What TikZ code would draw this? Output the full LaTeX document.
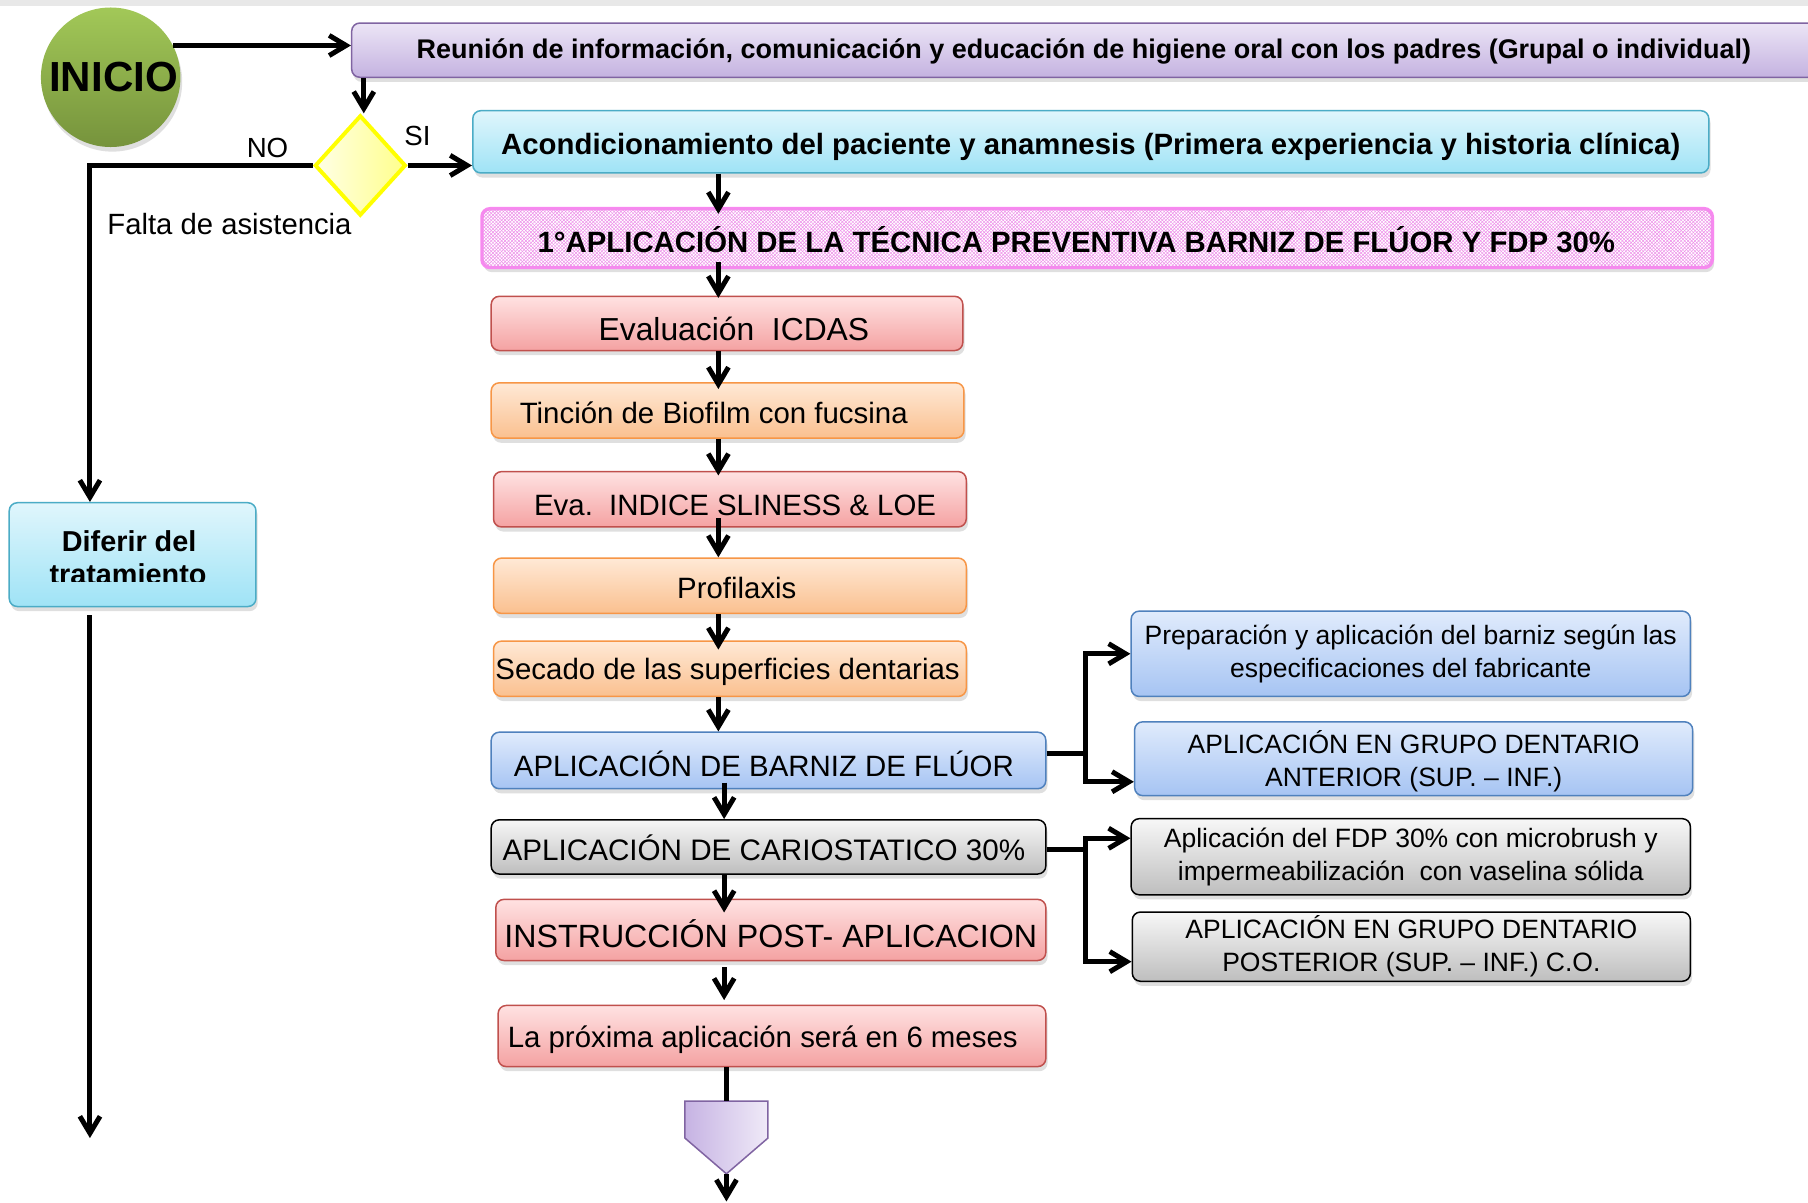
\documentclass[tikz,border=0pt]{standalone}
\usepackage{fontspec}
\setmainfont{Liberation Sans}
\usetikzlibrary{arrows.meta,shapes.geometric,shadows,patterns}
\definecolor{grnT}{HTML}{A2C858}
\definecolor{grnB}{HTML}{76933C}
\definecolor{purT}{HTML}{ECE5F6}
\definecolor{purB}{HTML}{C4B2E0}
\definecolor{purD}{HTML}{8064A2}
\definecolor{penL}{HTML}{C6B3E3}
\definecolor{penR}{HTML}{F0EAF8}
\definecolor{cyT}{HTML}{E0F6FC}
\definecolor{cyB}{HTML}{9FE3F6}
\definecolor{cyD}{HTML}{4BACC6}
\definecolor{pkD}{HTML}{F888F0}
\definecolor{pkP}{HTML}{EE90EA}
\definecolor{rdT}{HTML}{FFE2E2}
\definecolor{rdB}{HTML}{F4A2A2}
\definecolor{rdD}{HTML}{C0504D}
\definecolor{orT}{HTML}{FFE9D6}
\definecolor{orB}{HTML}{FAC08F}
\definecolor{orD}{HTML}{F79646}
\definecolor{blT}{HTML}{E0EBFC}
\definecolor{blB}{HTML}{A6C4F3}
\definecolor{blD}{HTML}{4F81BD}
\definecolor{gyT}{HTML}{F7F7F7}
\definecolor{gyB}{HTML}{BEBEBE}
\definecolor{yeT}{HTML}{FFFFE6}
\definecolor{yeB}{HTML}{FFFF8C}
\definecolor{yeD}{HTML}{FFFF00}
\newcommand\txtdown[2]{\raisebox{-#1pt}[\height][\depth]{#2}}
\pgfdeclarearrow{
  name=Chev,
  setup code={
    \pgfarrowssettipend{0pt}
    \pgfarrowssetlineend{-6pt}
    \pgfarrowssetbackend{-20pt}
  },
  drawing code={
    \pgfpathmoveto{\pgfqpoint{0pt}{0pt}}
    \pgfpathlineto{\pgfqpoint{-17.8pt}{10.6pt}}
    \pgfpathlineto{\pgfqpoint{-20pt}{6.9pt}}
    \pgfpathlineto{\pgfqpoint{-8.5pt}{0pt}}
    \pgfpathlineto{\pgfqpoint{-20pt}{-6.9pt}}
    \pgfpathlineto{\pgfqpoint{-17.8pt}{-10.6pt}}
    \pgfpathclose
    \pgfusepathqfill
  }
}
\begin{document}
\begin{tikzpicture}[x=1pt,y=-1pt,
  arr/.style={line width=4.3pt,-{Chev}},
  ln/.style={line width=4.3pt},
  box/.style={rectangle,rounded corners=7pt,line width=1.3pt,inner sep=0pt,
    drop shadow={shadow xshift=1.5pt,shadow yshift=-4pt,opacity=0.25}},
  rbox/.style={box,draw=rdD,top color=rdT,bottom color=rdB},
  obox/.style={box,draw=orD,top color=orT,bottom color=orB},
  bbox/.style={box,draw=blD,top color=blT,bottom color=blB},
  gbox/.style={box,draw=black,top color=gyT,bottom color=gyB},
  cbox/.style={box,draw=cyD,top color=cyT,bottom color=cyB},
  txt/.style={font=\fontsize{25.5}{30}\selectfont},
  rtxt/.style={font=\fontsize{23}{28.5}\selectfont,align=center},
  lbl/.style={font=\fontsize{24}{28}\selectfont,inner sep=0pt},
]
\fill[white] (0,0) rectangle (1568,1043);
\useasboundingbox (0,0) rectangle (1568,1043);
\fill[gray!18] (0,0) rectangle (1568,5);

% start
\node[circle,minimum size=121pt,inner sep=0pt,top color=grnT,bottom color=grnB,
  drop shadow={shadow xshift=1.5pt,shadow yshift=-4pt,opacity=0.25}] (inicio) at (96,67)
  {\fontsize{36.5}{40}\selectfont\bfseries\hspace*{5pt}INICIO};

\node[box,draw=purD,top color=purT,bottom color=purB,minimum width=1270pt,minimum height=47pt]
  (reunion) at (940,43.5)
  {\fontsize{23.4}{28}\selectfont\bfseries\txtdown{1}{Reunión de información, comunicación y educación de higiene oral con los padres (Grupal o individual)}};

\node[diamond,draw=yeD,line width=3.4pt,left color=yeT,right color=yeB,
  minimum width=79pt,minimum height=87pt,inner sep=0pt] (dia) at (312.5,143.5) {};
\node[lbl] (no) at (232,128) {NO};
\node[lbl] (si) at (362,118) {SI};
\node[lbl,font=\fontsize{25.4}{28}\selectfont] (falta) at (199,194) {Falta de asistencia};

\node[cbox,minimum width=1072pt,minimum height=54pt] (acond) at (946,123)
  {\fontsize{25.45}{30}\selectfont\bfseries\txtdown{4}{Acondicionamiento del paciente y anamnesis (Primera experiencia y historia clínica)}};

\node[box,draw=pkD,line width=3pt,fill=white,postaction={pattern=crosshatch,pattern color=pkP},
  minimum width=1067pt,minimum height=51pt] (pink) at (951.5,206.5)
  {\fontsize{25.45}{30}\selectfont\bfseries\txtdown{1}{1°APLICACIÓN DE LA TÉCNICA PREVENTIVA BARNIZ DE FLÚOR Y FDP 30\%}\hspace*{36pt}};

% diferir
\node[cbox,minimum width=214pt,minimum height=90pt] (diferir) at (115,481) {};
\begin{scope}
  \clip (8,436) rectangle (222,504.5);
  \node[anchor=base,inner sep=0pt,font=\fontsize{25}{28}\selectfont\bfseries] (dif1) at (112,478.4) {Diferir del};
  \node[anchor=base,inner sep=0pt,font=\fontsize{25}{28}\selectfont\bfseries] (dif2) at (111,506.5) {tratamiento};
\end{scope}

% main column
\node[rbox,txt,minimum width=409pt,minimum height=47pt] (eval) at (630.5,280.5)
  {\fontsize{27.6}{30}\selectfont\hspace*{12pt}\txtdown{5}{Evaluación\ \ ICDAS}};
\node[obox,txt,minimum width=410pt,minimum height=48pt] (tincion) at (631,356)
  {\txtdown{2}{Tinción de Biofilm con fucsina}\hspace*{24pt}};
\node[rbox,txt,minimum width=410pt,minimum height=48pt] (eva) at (633,433)
  {\hspace*{9pt}\txtdown{5}{Eva.\ \ INDICE SLINESS \& LOE}};
\node[obox,txt,minimum width=410pt,minimum height=48pt] (profil) at (633,508)
  {\hspace*{12pt}\txtdown{2}{Profilaxis}};
\node[obox,txt,minimum width=410pt,minimum height=48pt] (secado) at (633,580)
  {\txtdown{3}{Secado de las superficies dentarias}\hspace*{4pt}};
\node[bbox,txt,minimum width=481pt,minimum height=49pt] (barniz) at (666.5,659.5)
  {\txtdown{3}{APLICACIÓN DE BARNIZ DE FLÚOR}\hspace*{8pt}};
\node[gbox,txt,minimum width=481pt,minimum height=47pt] (cario) at (666.5,734.5)
  {\fontsize{25.7}{30}\selectfont\txtdown{1}{APLICACIÓN DE CARIOSTATICO 30\%}\hspace*{8pt}};
\node[rbox,txt,minimum width=477pt,minimum height=53pt] (instr) at (668.5,806.5)
  {\fontsize{27.9}{30}\selectfont\txtdown{3}{INSTRUCCIÓN POST- APLICACION}};
\node[rbox,txt,minimum width=475pt,minimum height=53pt] (prox) at (669.5,898.5)
  {\txtdown{3}{La próxima aplicación será en 6 meses}\hspace*{16pt}};

% right column
\node[bbox,rtxt,minimum width=485pt,minimum height=74pt] (prep) at (1223.5,567)
  {Preparación y aplicación del barniz según las\\especificaciones del fabricante};
\node[bbox,rtxt,minimum width=484pt,minimum height=64pt] (ant) at (1226,658)
  {\txtdown{2}{APLICACIÓN EN GRUPO DENTARIO}\\\txtdown{2}{ANTERIOR (SUP. – INF.)}};
\node[gbox,rtxt,minimum width=485pt,minimum height=66pt] (fdp) at (1223.5,743)
  {Aplicación del FDP 30\% con microbrush y\\impermeabilización\ \ con vaselina sólida};
\node[gbox,rtxt,minimum width=484pt,minimum height=60pt] (post) at (1224,821)
  {APLICACIÓN EN GRUPO DENTARIO\\POSTERIOR (SUP. – INF.) C.O.};

% pentagon
\path[draw=purD,line width=1.3pt,left color=penL,right color=penR]
  (594,955) -- (666,955) -- (666,987) -- (630,1018) -- (594,987) -- cycle;
\coordinate (pentop) at (630,955);
\coordinate (pentip) at (630,1018);
\coordinate (bend) at (630,1042);
\coordinate (lend) at (78,987);
\coordinate (colA) at (623,0);
\coordinate (colB) at (628,0);

% connectors
\draw[arr] (inicio.27) -- (inicio.27 -| reunion.west);
\draw[arr] ([xshift=3pt]dia.north |- reunion.south) -- ([xshift=3pt]dia.north);
\draw[arr] (dia.east) -- (dia.east -| acond.west);
\draw[arr] (dia.west) -| ([xshift=-37pt]diferir.north);
\draw[arr] ([xshift=-37pt,yshift=-7pt]diferir.south) -- (lend);

\draw[arr] (acond.south -| colA) -- ([yshift=-6pt]pink.north -| colA);
\draw[arr] ([yshift=6pt]pink.south -| colA) -- ([yshift=-2pt]eval.north -| colA);
\draw[arr] (eval.south -| colA) -- ([yshift=-6pt]tincion.north -| colA);
\draw[arr] (tincion.south -| colA) -- ([yshift=-4pt]eva.north -| colA);
\draw[arr] ([yshift=8pt]eva.south -| colA) -- (profil.north -| colA);
\draw[arr] (profil.south -| colA) -- ([yshift=-8pt]secado.north -| colA);
\draw[arr] (secado.south -| colA) -- (barniz.north -| colA);
\draw[arr] ([yshift=6pt]barniz.south -| colB) -- (cario.north -| colB);
\draw[arr] (cario.south -| colB) -- ([yshift=-12pt]instr.north -| colB);
\draw[arr] ([yshift=-5pt]instr.south -| colB) -- ([yshift=4pt]prox.north -| colB);
\draw[ln] (prox.south -| pentop) -- (pentop);
\draw[arr] (pentip) -- (bend);

\draw[ln] ([yshift=6pt]barniz.east) -- ++(34,0) coordinate (bj);
\draw[arr] (bj) |- (prep.west);
\draw[arr] (bj) |- ([yshift=-20pt]ant.west);
\draw[ln] ([yshift=-2.5pt]cario.east) -- ++(34,0) coordinate (cj);
\draw[arr] (cj) |- ([yshift=16pt]fdp.west);
\draw[arr] (cj) |- ([yshift=-13pt]post.west);
\end{tikzpicture}
\end{document}
